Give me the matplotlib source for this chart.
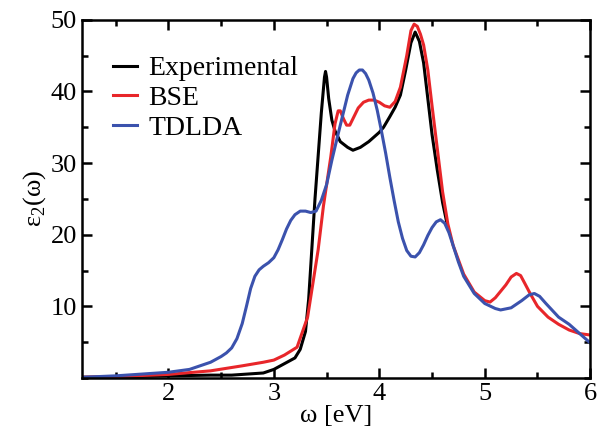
import matplotlib
matplotlib.use('Agg')
import matplotlib.pyplot as plt
from matplotlib.ticker import MultipleLocator

plt.rcParams['font.family'] = ['Liberation Serif', 'DejaVu Serif']
plt.rcParams['mathtext.fontset'] = 'custom'
plt.rcParams['mathtext.rm'] = 'Liberation Serif'

# experimental spectrum
exp_x = [1.18, 1.5, 2.0, 2.4, 2.6, 2.7, 2.8, 2.9, 3.0, 3.1, 3.2, 3.25, 3.3, 3.33, 3.36,
         3.39, 3.42, 3.45, 3.48, 3.49, 3.5, 3.52, 3.55, 3.58, 3.63, 3.7, 3.75, 3.82,
         3.9, 4.0, 4.04, 4.1, 4.15, 4.2, 4.25, 4.3, 4.34, 4.38, 4.42, 4.46, 4.5, 4.55,
         4.6, 4.65]
exp_y = [0.1, 0.15, 0.3, 0.4, 0.4, 0.5, 0.6, 0.7, 1.2, 2.0, 2.8, 4.0, 6.5, 11, 18,
         25, 31, 37, 42, 42.8, 42, 39, 36, 34.5, 33, 32.2, 31.8, 32.2,
         33, 34.3, 35, 36.5, 37.8, 39.5, 43, 46.8, 48.3, 47, 44, 39, 34, 29,
         24.5, 21]

# BSE
bse_x = [1.18, 1.5, 2.0, 2.4, 2.7, 2.9, 3.0, 3.1, 3.22, 3.32, 3.37, 3.42, 3.47, 3.54,
         3.58, 3.61, 3.63, 3.66, 3.69, 3.72, 3.76, 3.8, 3.85, 3.9, 3.95, 4.0, 4.05,
         4.1, 4.15, 4.2, 4.26, 4.3, 4.33, 4.36, 4.39, 4.42, 4.46,
         4.5, 4.55, 4.6, 4.65, 4.7, 4.8, 4.9, 5.0, 5.05, 5.1, 5.2, 5.25, 5.3, 5.34,
         5.38, 5.43, 5.5, 5.6, 5.7, 5.8, 5.9, 6.0]
bse_y = [0.1, 0.2, 0.5, 1.0, 1.7, 2.2, 2.5, 3.2, 4.3, 8.5, 13.2, 17.9, 24, 30.9,
         35.5, 37.3, 37.3, 36.2, 35.3, 35.3, 36.5, 37.7, 38.5, 38.8, 38.8, 38.5, 38.0,
         37.8, 38.6, 40.6, 45, 48.5, 49.4, 49.1, 48, 46.5, 43,
         38, 32, 26, 21.5, 18.5, 14.5, 12, 10.8, 10.6, 11.2, 13, 14.1, 14.6, 14.3,
         13.2, 11.8, 10, 8.5, 7.5, 6.7, 6.2, 6.0]

# TDLDA
td_x = [1.18, 1.5, 2.0, 2.2, 2.4, 2.5, 2.55, 2.6, 2.65, 2.7, 2.74, 2.78, 2.82, 2.86,
        2.9, 2.95, 3.0, 3.04, 3.08, 3.12, 3.16, 3.2, 3.25, 3.3, 3.35, 3.4, 3.45, 3.5,
        3.55, 3.6, 3.65, 3.7, 3.75, 3.78, 3.81, 3.84, 3.87, 3.9, 3.94, 3.98, 4.02,
        4.06, 4.1, 4.14, 4.18, 4.22, 4.26, 4.3, 4.34, 4.38, 4.42, 4.46, 4.5, 4.54,
        4.58, 4.62, 4.66, 4.7, 4.75, 4.8, 4.9, 5.0, 5.1, 5.15, 5.25, 5.35, 5.42,
        5.47, 5.52, 5.58, 5.7, 5.8, 5.9, 6.0]
td_y = [0.1, 0.3, 0.8, 1.2, 2.2, 3.0, 3.5, 4.2, 5.5, 7.6, 10, 12.5, 14.2, 15.1,
        15.6, 16.1, 16.8, 17.9, 19.3, 20.8, 22, 22.8, 23.3, 23.3, 23.1, 23.3, 24.8, 27,
        30.4, 33.5, 36.5, 39.5, 41.8, 42.6, 43, 43, 42.5, 41.6, 39.8, 37.4, 34.5,
        31.4, 28, 24.8, 21.8, 19.5, 17.8, 17, 16.9, 17.5, 18.6, 19.9, 21, 21.8,
        22.1, 21.6, 20.3, 18.5, 16.2, 14.2, 11.8, 10.4, 9.7, 9.5, 9.8, 10.8, 11.6,
        11.8, 11.4, 10.4, 8.5, 7.5, 6.2, 4.9]

fig = plt.figure(figsize=(5.98, 4.32), dpi=100)
ax = fig.add_axes([0.137, 0.125, 0.85, 0.829])

ax.plot(exp_x, exp_y, color='black', lw=2.2, label='Experimental')
ax.plot(bse_x, bse_y, color='#e8262a', lw=2.2, label='BSE')
ax.plot(td_x, td_y, color='#3b52ad', lw=2.2, label='TDLDA')

ax.set_xlim(1.18, 6)
ax.set_ylim(0, 50)
ax.xaxis.set_major_locator(MultipleLocator(1))
ax.xaxis.set_minor_locator(MultipleLocator(0.5))
ax.yaxis.set_minor_locator(MultipleLocator(5))
ax.set_yticks([10, 20, 30, 40, 50])
ax.tick_params(which='both', direction='in', top=True, right=True, width=1.8, labelsize=19)
ax.tick_params(which='major', length=7)
ax.tick_params(which='minor', length=4)
for s in ax.spines.values():
    s.set_linewidth(1.8)

ax.set_xlabel('ω [eV]', fontsize=19, labelpad=0)
ax.set_ylabel('ε$_2$(ω)', fontsize=19, labelpad=2)

ax.legend(loc='upper left', bbox_to_anchor=(0.04, 0.93), frameon=False, fontsize=20,
          handlelength=0.85, handletextpad=0.4, labelspacing=0.15, borderaxespad=0)

fig.savefig('out.png', dpi=100)
